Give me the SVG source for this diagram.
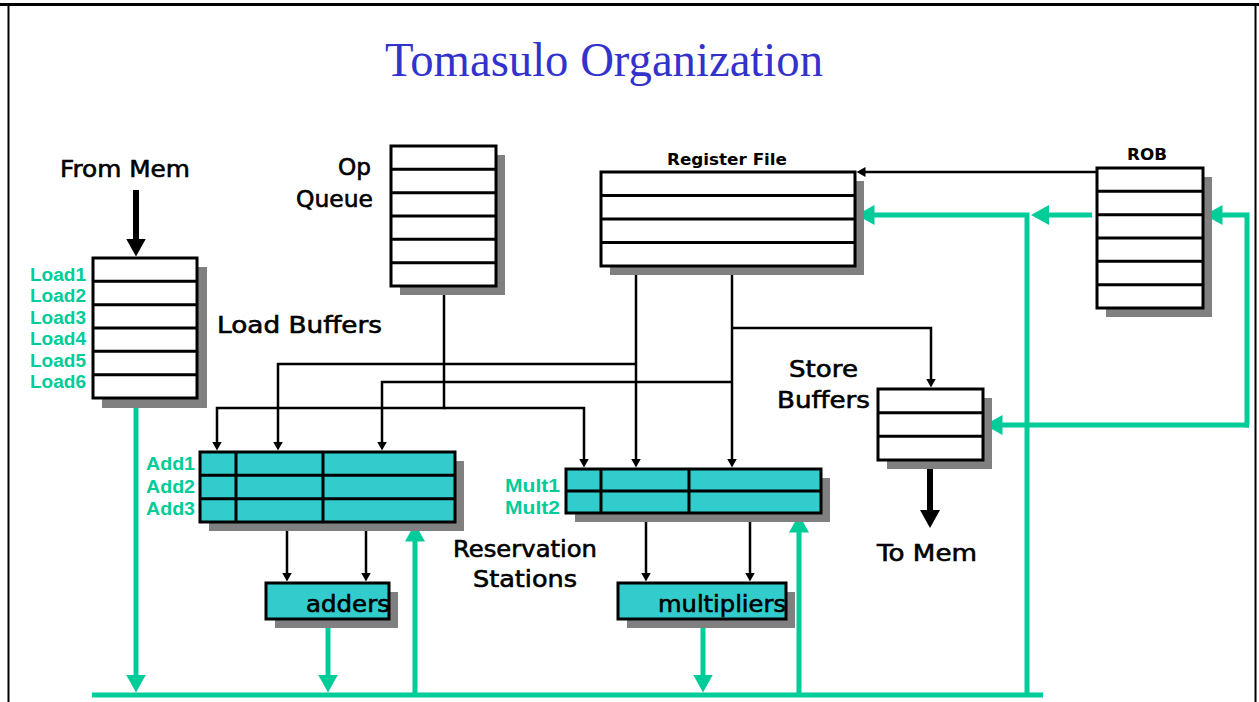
<svg xmlns="http://www.w3.org/2000/svg" width="1259" height="702" viewBox="0 0 1259 702">
<style>
.box{fill:#fff;stroke:#000;stroke-width:3}
.rs{fill:#33CCCC;stroke:#000;stroke-width:3}
.sh{fill:#808080}
.rl{stroke:#000;stroke-width:3}
.lbl{font-family:"DejaVu Sans",sans-serif;font-size:23px;fill:#000;stroke:#000;stroke-width:0.6}
.sm{font-family:"DejaVu Sans",sans-serif;font-weight:bold;font-size:16px;fill:#000}
.g{font-family:"Liberation Sans",Arial,sans-serif;font-weight:bold;font-size:18px;fill:#00CC99}
.bl{stroke:#000;stroke-width:2.5;fill:none}
.bk{stroke:#000;stroke-width:6;fill:none}
.gl{stroke:#00CC99;stroke-width:5;fill:none}
</style>
<defs>
<marker id="ah" markerUnits="userSpaceOnUse" markerWidth="10" markerHeight="10" refX="4" refY="5" orient="auto"><path d="M0,0 L9,5 L0,10 z" fill="#000"/></marker>
<marker id="bh" markerUnits="userSpaceOnUse" markerWidth="18" markerHeight="20" refX="8" refY="10" orient="auto"><path d="M0,0 L18,10 L0,20 z" fill="#000"/></marker>
<marker id="gh" markerUnits="userSpaceOnUse" markerWidth="18" markerHeight="20" refX="8" refY="10" orient="auto"><path d="M0,0 L18,10 L0,20 z" fill="#00CC99"/></marker>
</defs>
<rect width="1259" height="702" fill="#fff"/>
<g id="frame">
<line x1="0" y1="4.5" x2="1259" y2="4.5" stroke="#000" stroke-width="3"/>
<line x1="8.5" y1="4" x2="8.5" y2="702" stroke="#000" stroke-width="2"/>
<line x1="1255.5" y1="4" x2="1255.5" y2="702" stroke="#000" stroke-width="2"/>
</g>
<text x="604" y="76" text-anchor="middle" font-family="Liberation Serif, serif" font-size="48" fill="#3333CC" textLength="438" lengthAdjust="spacingAndGlyphs">Tomasulo Organization</text>

<g id="connectors">
<path class="bl" d="M444,286 V408 H217 V445.5" marker-end="url(#ah)"/>
<path class="bl" d="M444,408 H584 V462.5" marker-end="url(#ah)"/>
<path class="bl" d="M636,266 V462.5" marker-end="url(#ah)"/>
<path class="bl" d="M636,364 H278 V445.5" marker-end="url(#ah)"/>
<path class="bl" d="M732,266 V462.5" marker-end="url(#ah)"/>
<path class="bl" d="M732,382 H382 V445.5" marker-end="url(#ah)"/>
<path class="bl" d="M732,328 H931 V382.5" marker-end="url(#ah)"/>
<path class="bl" d="M1097,172 H861.5" marker-end="url(#ah)"/>
<path class="bl" d="M287,522 V576.5" marker-end="url(#ah)"/>
<path class="bl" d="M366,522 V576.5" marker-end="url(#ah)"/>
<path class="bl" d="M646,513 V576.5" marker-end="url(#ah)"/>
<path class="bl" d="M750,513 V576.5" marker-end="url(#ah)"/>
<path class="bk" d="M136,190 V246.5" marker-end="url(#bh)"/>
<path class="bk" d="M930,460 V518" marker-end="url(#bh)"/>
<path class="gl" d="M92,695 H1043"/>
<path class="gl" d="M136,398 V682.5" marker-end="url(#gh)"/>
<path class="gl" d="M328,619 V682.5" marker-end="url(#gh)"/>
<path class="gl" d="M703,619 V682.5" marker-end="url(#gh)"/>
<path class="gl" d="M415,695 V533.5" marker-end="url(#gh)"/>
<path class="gl" d="M799,695 V524.5" marker-end="url(#gh)"/>
<path class="gl" d="M1027,695 V215 H866.5" marker-end="url(#gh)"/>
<path class="gl" d="M1092,215 H1041" marker-end="url(#gh)"/>
<path class="gl" d="M1249,425 H1247 V215 H1214.5" marker-end="url(#gh)"/>
<path class="gl" d="M1249,425 H994.5" marker-end="url(#gh)"/>
</g>

<g id="from-mem"><text class="lbl" x="60" y="177" textLength="130" lengthAdjust="spacingAndGlyphs">From Mem</text></g>

<g id="load-buffers">
<rect class="sh" x="102" y="267" width="105" height="141"/>
<rect class="box" x="93" y="258" width="104" height="140"/>
<path class="rl" d="M93,281.3 H197 M93,304.7 H197 M93,328 H197 M93,351.3 H197 M93,374.7 H197"/>
<text class="g" x="30" y="281" textLength="56" lengthAdjust="spacingAndGlyphs">Load1</text>
<text class="g" x="30" y="302" textLength="56" lengthAdjust="spacingAndGlyphs">Load2</text>
<text class="g" x="30" y="324" textLength="56" lengthAdjust="spacingAndGlyphs">Load3</text>
<text class="g" x="30" y="345" textLength="56" lengthAdjust="spacingAndGlyphs">Load4</text>
<text class="g" x="30" y="367" textLength="56" lengthAdjust="spacingAndGlyphs">Load5</text>
<text class="g" x="30" y="388" textLength="56" lengthAdjust="spacingAndGlyphs">Load6</text>
<text class="lbl" x="217" y="333" textLength="165" lengthAdjust="spacingAndGlyphs">Load Buffers</text>
</g>

<g id="op-queue">
<rect class="sh" x="400" y="155" width="105" height="140"/>
<rect class="box" x="391" y="146" width="105" height="140"/>
<path class="rl" d="M391,169.3 H496 M391,192.7 H496 M391,216 H496 M391,239.3 H496 M391,262.7 H496"/>
<text class="lbl" x="338" y="175" textLength="33" lengthAdjust="spacingAndGlyphs">Op</text>
<text class="lbl" x="296" y="207" textLength="77" lengthAdjust="spacingAndGlyphs">Queue</text>
</g>

<g id="register-file">
<rect class="sh" x="610" y="181" width="254" height="94"/>
<rect class="box" x="601" y="172" width="254" height="94"/>
<path class="rl" d="M601,195.5 H855 M601,219 H855 M601,242.5 H855"/>
<text class="sm" x="667" y="165" textLength="120" lengthAdjust="spacingAndGlyphs">Register File</text>
</g>

<g id="rob">
<rect class="sh" x="1106" y="177" width="106" height="140"/>
<rect class="box" x="1097" y="168" width="106" height="140"/>
<path class="rl" d="M1097,191.3 H1203 M1097,214.7 H1203 M1097,238 H1203 M1097,261.3 H1203 M1097,284.7 H1203"/>
<text class="sm" x="1127" y="160" textLength="40" lengthAdjust="spacingAndGlyphs">ROB</text>
</g>

<g id="store-buffers">
<rect class="sh" x="887" y="398" width="105" height="71"/>
<rect class="box" x="878" y="389" width="105" height="71"/>
<path class="rl" d="M878,412.7 H983 M878,436.3 H983"/>
<text class="lbl" x="789" y="377" textLength="69" lengthAdjust="spacingAndGlyphs">Store</text>
<text class="lbl" x="777" y="408" textLength="93" lengthAdjust="spacingAndGlyphs">Buffers</text>
</g>

<g id="to-mem"><text class="lbl" x="877" y="561" textLength="100" lengthAdjust="spacingAndGlyphs">To Mem</text></g>

<g id="add-rs">
<rect class="sh" x="209" y="461" width="255" height="70"/>
<rect class="rs" x="200" y="452" width="255" height="70"/>
<path class="rl" d="M200,475.3 H455 M200,498.7 H455 M236,452 V522 M323,452 V522"/>
<text class="g" x="146" y="470" textLength="49" lengthAdjust="spacingAndGlyphs">Add1</text>
<text class="g" x="146" y="493" textLength="49" lengthAdjust="spacingAndGlyphs">Add2</text>
<text class="g" x="146" y="515" textLength="49" lengthAdjust="spacingAndGlyphs">Add3</text>
</g>

<g id="mult-rs">
<rect class="sh" x="575" y="478" width="255" height="44"/>
<rect class="rs" x="566" y="469" width="255" height="44"/>
<path class="rl" d="M566,491 H821 M601,469 V513 M689,469 V513"/>
<text class="g" x="505" y="492" textLength="55" lengthAdjust="spacingAndGlyphs">Mult1</text>
<text class="g" x="505" y="514" textLength="55" lengthAdjust="spacingAndGlyphs">Mult2</text>
</g>

<g id="rs-label">
<text class="lbl" x="453" y="557" textLength="144" lengthAdjust="spacingAndGlyphs">Reservation</text>
<text class="lbl" x="473" y="587" textLength="104" lengthAdjust="spacingAndGlyphs">Stations</text>
</g>

<g id="adders">
<rect class="sh" x="275" y="592" width="123" height="36"/>
<rect class="rs" x="266" y="583" width="123" height="36"/>
<text class="lbl" x="306" y="612" textLength="84" lengthAdjust="spacingAndGlyphs">adders</text>
</g>

<g id="multipliers">
<rect class="sh" x="627" y="592" width="168" height="36"/>
<rect class="rs" x="618" y="583" width="168" height="36"/>
<text class="lbl" x="658" y="612" textLength="128" lengthAdjust="spacingAndGlyphs">multipliers</text>
</g>
</svg>
